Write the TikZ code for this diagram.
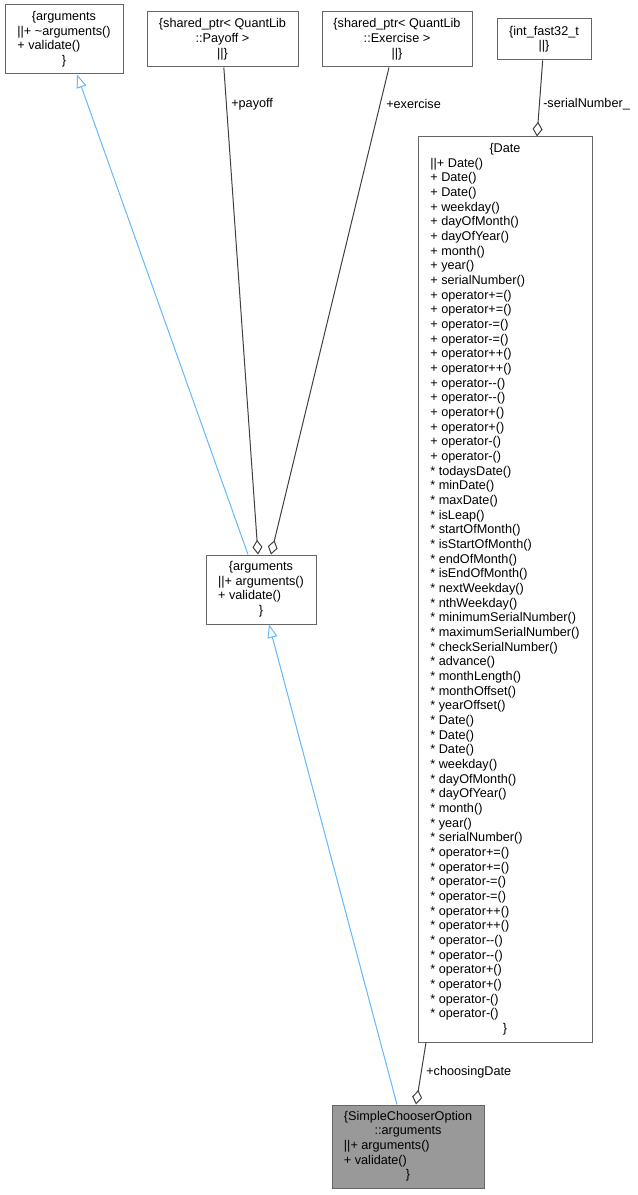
\documentclass[tikz,border=0pt]{standalone}
\usepackage{fontspec}
\setmainfont{Liberation Sans}
\usetikzlibrary{arrows.meta}

\definecolor{boxgray}{HTML}{666666}
\definecolor{edgegray}{HTML}{404040}
\definecolor{inhblue}{HTML}{63B8FF}
\definecolor{curfill}{HTML}{999999}

\newcommand{\hdr}[1]{\multicolumn{1}{@{}c@{}}{#1}}
\newcommand{\members}[1]{\begin{tabular}{@{}l@{}}#1\end{tabular}}
\newcommand{\centred}[1]{\begin{tabular}{@{}c@{}}#1\end{tabular}}

\tikzset{
  cls/.style={draw=boxgray, line width=0.75pt, inner sep=0pt, font=\fontsize{9.5}{11}\selectfont},
  lbl/.style={anchor=west, inner sep=0pt, font=\fontsize{9.5}{11}\selectfont},
  agg/.style={draw=edgegray, line width=0.75pt, -{Diamond[open, length=11pt, width=7.5pt]}},
  inh/.style={draw=inhblue, line width=0.75pt, -{Triangle[open, length=10pt, width=7.5pt]}}
}

\begin{document}
\begin{tikzpicture}[x=0.75pt, y=-0.75pt]
    \useasboundingbox (0,0) rectangle (637,1195);

    \node[cls, minimum width=88.5pt, minimum height=51.75pt] (base) at (64,39.5)
        {\members{\hdr{\{arguments}\\ ||+ \textasciitilde arguments()\\ + validate()\\ \hdr{\}}}};
    \node[cls, minimum width=113.25pt, minimum height=41.25pt] (payoff) at (222.5,39.5)
        {\centred{\{shared\_ptr< QuantLib\\ ::Payoff >\\ ||\}}};
    \node[cls, minimum width=112.5pt, minimum height=41.25pt] (exercise) at (397,39.5)
        {\centred{\{shared\_ptr< QuantLib\\ ::Exercise >\\ ||\}}};
    \node[cls, minimum width=70.5pt, minimum height=30.75pt] (intf) at (544,39.5)
        {\centred{\{int\_fast32\_t\\ ||\}}};

    \node[cls, minimum width=130.5pt, minimum height=678.75pt] (date) at (505,589.5)
        {\members{\hdr{\{Date}\\ ||+ Date()\\ + Date()\\ + Date()\\ + weekday()\\
        + dayOfMonth()\\ + dayOfYear()\\ + month()\\ + year()\\ + serialNumber()\\
        + operator+=()\\ + operator+=()\\ + operator-=()\\ + operator-=()\\
        + operator++()\\ + operator++()\\ + operator-{}-()\\ + operator-{}-()\\
        + operator+()\\ + operator+()\\ + operator-()\\ + operator-()\\
        {*} todaysDate()\\ {*} minDate()\\ {*} maxDate()\\ {*} isLeap()\\
        {*} startOfMonth()\\ {*} isStartOfMonth()\\ {*} endOfMonth()\\ {*} isEndOfMonth()\\
        {*} nextWeekday()\\ {*} nthWeekday()\\ {*} minimumSerialNumber()\\
        {*} maximumSerialNumber()\\ {*} checkSerialNumber()\\ {*} advance()\\
        {*} monthLength()\\ {*} monthOffset()\\ {*} yearOffset()\\
        {*} Date()\\ {*} Date()\\ {*} Date()\\ {*} weekday()\\ {*} dayOfMonth()\\
        {*} dayOfYear()\\ {*} month()\\ {*} year()\\ {*} serialNumber()\\
        {*} operator+=()\\ {*} operator+=()\\ {*} operator-=()\\ {*} operator-=()\\
        {*} operator++()\\ {*} operator++()\\ {*} operator-{}-()\\ {*} operator-{}-()\\
        {*} operator+()\\ {*} operator+()\\ {*} operator-()\\ {*} operator-()\\
        \hdr{\}}}};

    \node[cls, minimum width=82.5pt, minimum height=51.75pt] (args) at (261,589.5)
        {\members{\hdr{\{arguments}\\ ||+ arguments()\\ + validate()\\ \hdr{\}}}};
    \node[cls, fill=curfill, minimum width=114pt, minimum height=62.25pt] (chooser) at (408,1146.5)
        {\members{\hdr{\{SimpleChooserOption}\\ \hdr{::arguments}\\ ||+ arguments()\\ + validate()\\ \hdr{\}}}};

    \draw[inh] ([xshift=-9.75pt]args.north) -- ([xshift=9.75pt]base.south);
    \draw[agg] ([xshift=1pt]payoff.south) -- ([xshift=-2.25pt]args.north);
    \draw[agg] ([xshift=-6pt]exercise.south) -- ([xshift=7.5pt]args.north);
    \draw[agg] ([xshift=-1pt]intf.south) -- ([xshift=24pt]date.north);
    \draw[agg] ([xshift=-59.25pt]date.south) -- ([xshift=6pt]chooser.north);
    \draw[inh] ([xshift=-8.25pt]chooser.north) -- ([xshift=6pt]args.south);

    \node[lbl] (lpayoff) at (231,104) {+payoff};
    \node[lbl] (lexercise) at (386,104) {+exercise};
    \node[lbl] (lserial) at (543,104) {-serialNumber\_};
    \node[lbl] (lchoosing) at (426,1072) {+choosingDate};
\end{tikzpicture}
\end{document}
